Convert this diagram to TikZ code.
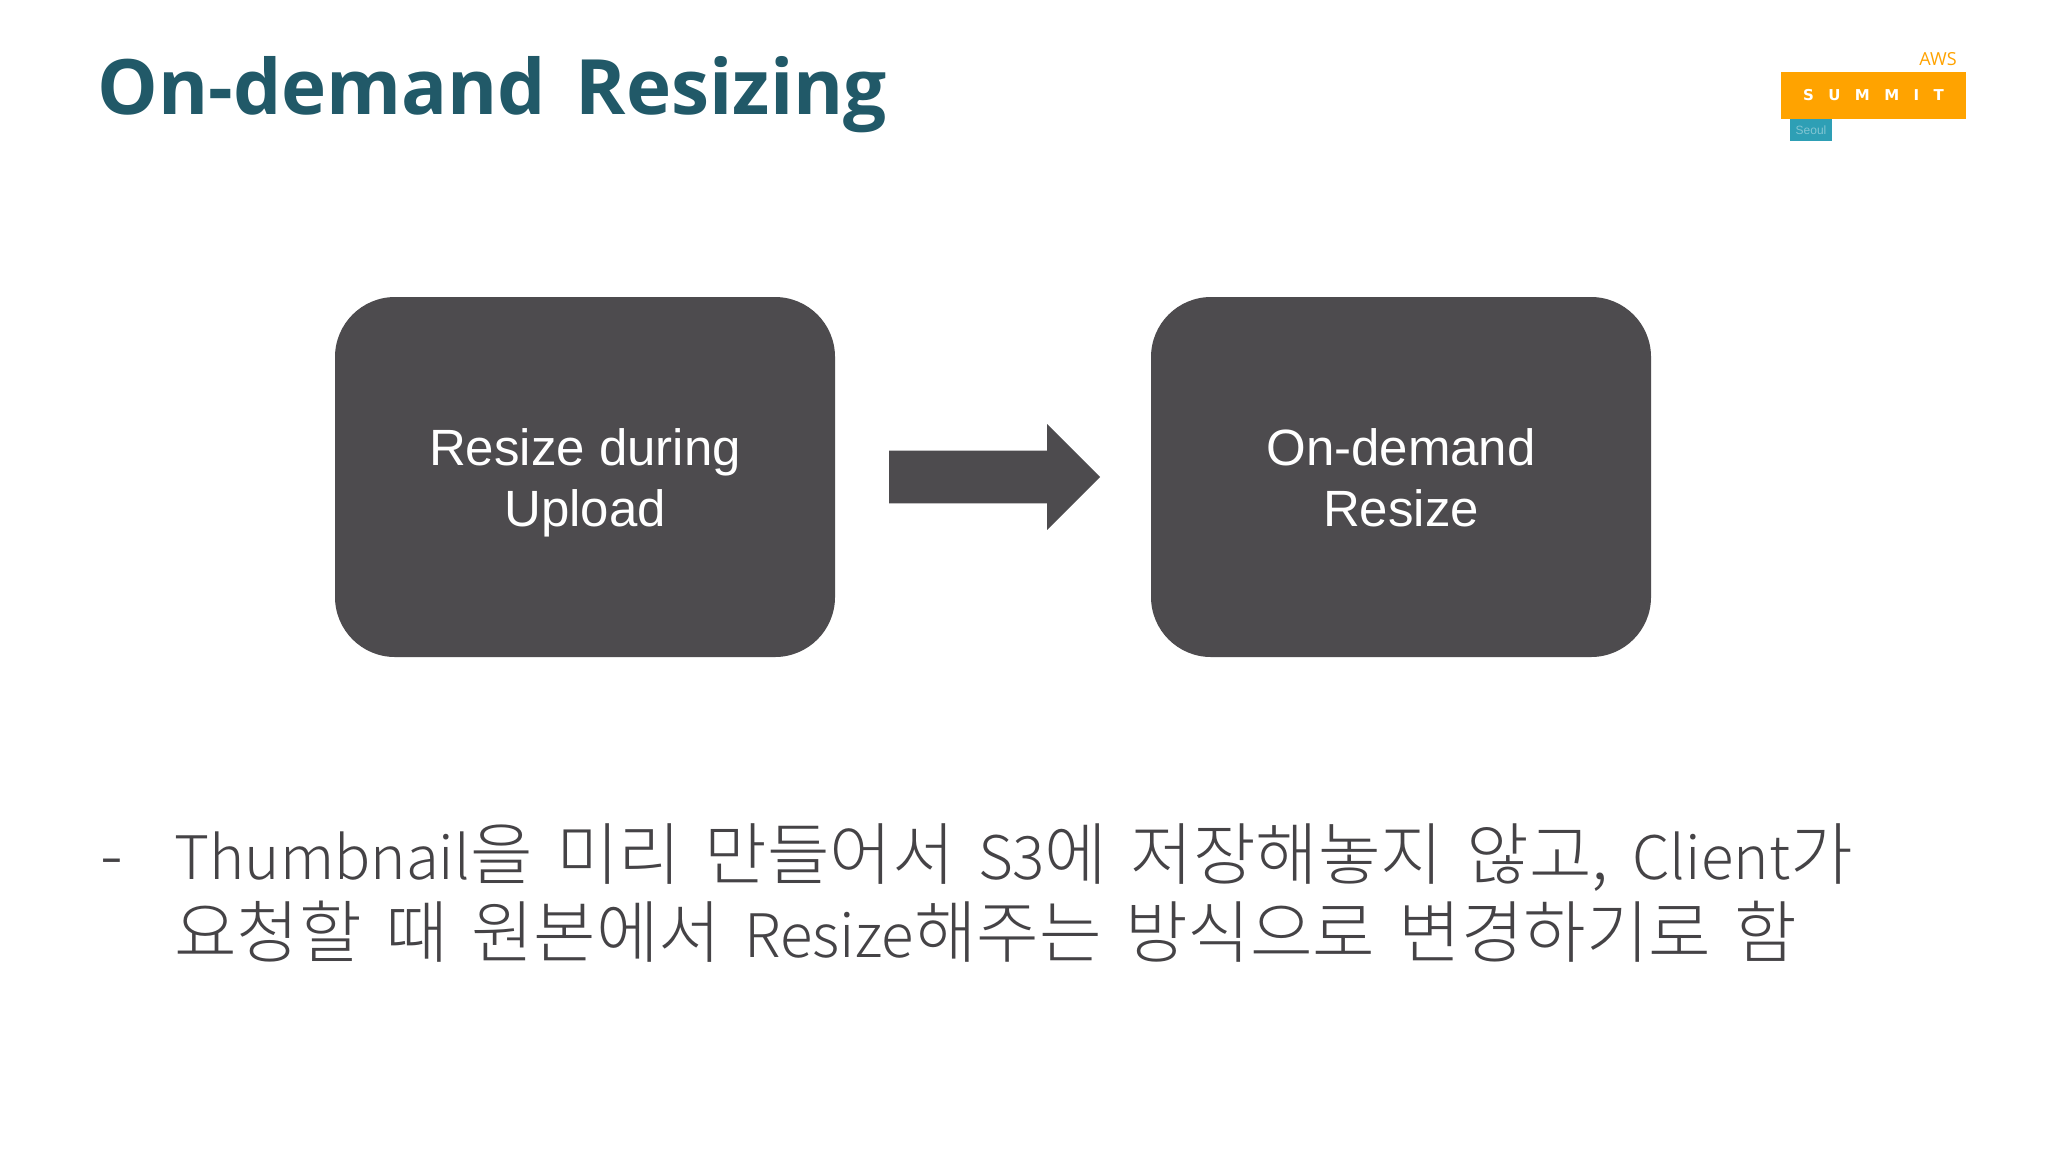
\documentclass[tikz,border=0pt]{standalone}
\usepackage{fontspec}
\setmainfont{Liberation Sans}
\newfontfamily\krfont[WordSpace=1.55]{Noto Sans CJK KR Light}
\newfontfamily\titlefont[WordSpace=1.5]{Open Sans}
\newfontfamily\logofont{DejaVu Sans}
\newcommand{\latinpart}[1]{{\fontsize{30}{34}\selectfont #1}}
\usetikzlibrary{shapes.arrows}

\definecolor{boxgray}{HTML}{4D4B4E}
\definecolor{titleteal}{HTML}{215968}
\definecolor{bodygray}{HTML}{454346}
\definecolor{summitorange}{HTML}{FFA300}
\definecolor{seoulteal}{HTML}{2E9FB5}

\tikzset{
  stagebox/.style={rectangle, fill=boxgray, rounded corners=30pt, minimum width=250pt, minimum height=180pt,
    inner sep=0pt, outer sep=0pt, text=white, align=center, font=\fontsize{25.5}{30.5}\selectfont},
  bodyline/.style={anchor=base west, inner sep=0pt, text=bodygray, font=\krfont\fontsize{34}{40}\selectfont},
}

\begin{document}
\begin{tikzpicture}[x=.5pt,y=-.5pt]

      \path[use as bounding box, fill=white] (0,0) rectangle (2048,1152);

      \node[anchor=west, inner sep=0pt, text=titleteal, font=\titlefont\bfseries\fontsize{38.2}{46}\selectfont] (title) at (97,95) {On-demand Resizing};

      % logo
      \node[fill=summitorange, minimum width=92.5pt, minimum height=23.5pt, inner sep=0pt, outer sep=0pt, text=white,
        font=\logofont\bfseries\fontsize{7.5}{9}\selectfont] (summit) at (1873.5,95.5) {S\hspace{7.2pt}U\hspace{7.2pt}M\hspace{7.2pt}M\hspace{7.2pt}I\hspace{7.2pt}T};
      \node[fill=seoulteal, minimum width=21pt, minimum height=11pt, inner sep=0pt, outer sep=0pt, text=white!40!seoulteal,
        font=\fontsize{6}{7}\selectfont] (seoul) at (1811,130) {Seoul};
      \node[anchor=base east, inner sep=0pt, text=summitorange, font=\titlefont\fontsize{9}{10}\selectfont] (aws) at (1957,65) {AWS};

      \begin{scope}[every node/.style={stagebox}]
        \node (during) at (585,477)  {\raisebox{-1pt}{Resize during}\\\smash{\raisebox{-1pt}{Upload}}};
        \node (ondemand) at (1401,477) {\raisebox{-1pt}{On-demand}\\\smash{\raisebox{-1pt}{Resize}}};
      \end{scope}

      \node[single arrow, fill=boxgray, anchor=tail, inner xsep=0pt, inner ysep=13pt, outer sep=0pt, minimum height=105.5pt,
        single arrow head extend=13.25pt, single arrow tip angle=90, single arrow head indent=0pt] (shift) at (889,477) {};

      \begin{scope}[every node/.style={bodyline}]
        \node (dash) at (100,879) {-};
        \node (first) at (174,879) {\latinpart{Thumbnail}을 미리 만들어서 \latinpart{S3}에 저장해놓지 않고, \latinpart{Client}가};
        \node (second) at (174,957) {요청할 때 원본에서 \latinpart{Resize}해주는 방식으로 변경하기로 함};
      \end{scope}

    \end{tikzpicture}
\end{document}
